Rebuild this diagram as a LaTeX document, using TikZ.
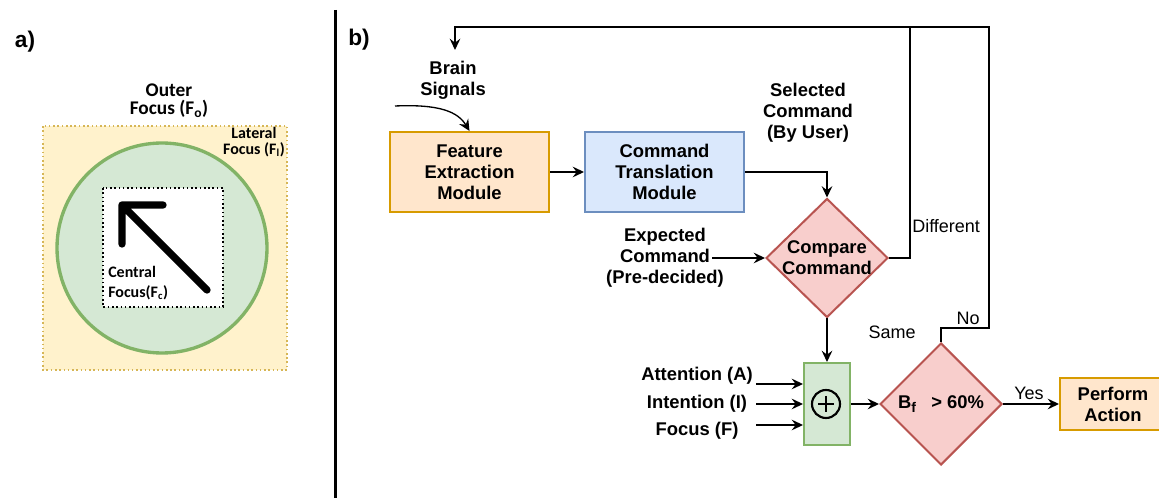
\documentclass[tikz,border=0pt]{standalone}
\usepackage{fontspec}
\setmainfont{Liberation Sans}
\newfontfamily\calib{Carlito}
\usetikzlibrary{arrows.meta,shapes.geometric,calc}

\definecolor{orfill}{HTML}{FFE6CC}
\definecolor{ordraw}{HTML}{D79B00}
\definecolor{blfill}{HTML}{DAE8FC}
\definecolor{bldraw}{HTML}{6C8EBF}
\definecolor{rdfill}{HTML}{F8CECC}
\definecolor{rddraw}{HTML}{B85450}
\definecolor{grfill}{HTML}{D5E8D4}
\definecolor{grdraw}{HTML}{82B366}
\definecolor{yefill}{HTML}{FFF2CC}
\definecolor{yedraw}{HTML}{D6B656}

\tikzset{
  txt/.style={font=\bfseries\fontsize{13.8}{15.75}\selectfont, align=center, inner sep=0pt},
  plain/.style={font=\fontsize{13.5}{15.75}\selectfont, inner sep=0pt},
  panel/.style={font=\bfseries\fontsize{17}{20}\selectfont, inner sep=0pt},
  modbox/.style={txt, draw, line width=1.5pt, minimum width=119.25pt, minimum height=60pt},
  decide/.style={diamond, draw=rddraw, fill=rdfill, line width=1.5pt, inner sep=0pt},
  wire/.style={line width=1pt},
  conn/.style={wire, -{Stealth[length=8.5pt,width=8pt,inset=3pt]}},
}

\begin{document}
\begin{tikzpicture}[x=0.75pt,y=-0.75pt]
\useasboundingbox (0,0) rectangle (1159,498);
\clip (0,0) rectangle (1159,498);

% ---------- panel a: focus regions ----------
\node[panel] (la) at (25,42) {a)};
\draw[yedraw, fill=yefill, line width=1.2pt, dotted] (43,126) rectangle (287,370);
\draw[grdraw, fill=grfill, line width=2.5pt] (162,248) circle[radius=78.75pt];
\draw[black, fill=white, line width=1.2pt, dotted] (103,188) rectangle (223,307);
\draw[black, line width=5.5pt, line cap=round, line join=round]
  (163,205) -- (122,205) -- (122,244) (122,205) -- (207,290);
\node[font=\calib\bfseries\fontsize{14.5}{13.5}\selectfont, align=center, inner sep=0pt]
  (outer) at (169,101) {Outer\\Focus (F\textsubscript{o})};
\node[font=\calib\bfseries\fontsize{12}{11.5}\selectfont, align=center, inner sep=0pt]
  (lateral) at (254,142) {Lateral\\Focus (F\textsubscript{l})};
\node[font=\calib\bfseries\fontsize{12}{15}\selectfont, align=left, inner sep=0pt, anchor=west]
  (central) at (108,283) {Central\\Focus(F\textsubscript{c})};

% divider between the panels
\draw[line width=2.25pt] (335,10) -- (335,498);

% ---------- panel b: command pipeline ----------
\node[panel] (lb) at (359,40) {b)};

\node[modbox, draw=ordraw, fill=orfill] (fe) at (469.5,172) {Feature\\Extraction\\Module};
\node[modbox, draw=bldraw, fill=blfill] (ct) at (664.5,172) {Command\\Translation\\Module};
\node[decide, minimum width=91.5pt, minimum height=89.25pt] (cmp) at (827,258) {};
\node[txt] (cmptxt) at (827,258) {Compare\\Command};
\node[draw=grdraw, fill=grfill, line width=1.5pt, minimum width=34.5pt, minimum height=61.5pt, inner sep=0pt]
  (sum) at (827,404) {};
\node[draw, circle, line width=1.6pt, minimum size=21pt, inner sep=0pt] (plus) at (826,404) {};
\draw[line width=1.8pt] ($(plus.center)+(-8,0)$) -- ($(plus.center)+(8,0)$)
  ($(plus.center)+(0,-8)$) -- ($(plus.center)+(0,8)$);
\node[decide, minimum width=91.5pt, minimum height=91.5pt] (bf) at (941,404) {};
\node[txt] (bftxt) at (941,404) {B\raisebox{-0.45ex}{\fontsize{10.5}{10.5}\selectfont f}\ \ \ \textgreater\ 60\%};
\node[modbox, draw=ordraw, fill=orfill, minimum width=79.5pt, minimum height=39pt] (pa) at (1113,404) {Perform\\Action};

% input labels
\node[txt] (brain) at (453,80) {Brain\\Signals};
\node[txt] (sel) at (808,113) {Selected\\Command\\(By User)};
\node[txt] (exp) at (665,258) {Expected\\Command\\(Pre-decided)};
\node[txt] (att) at (697,376) {Attention (A)};
\node[txt] (int) at (697,404) {Intention (I)};
\node[txt] (foc) at (697,431) {Focus (F)};

% branch labels
\node[plain, anchor=west] (ldiff) at (912,226) {Different};
\node[plain] (lsame) at (892,332) {Same};
\node[plain] (lno) at (968,318) {No};
\node[plain] (lyes) at (1029,393) {Yes};

% connector end points
\coordinate (bsrc) at (395,106);
\coordinate (expout) at (712,258);
\coordinate (attin) at (756,384);
\coordinate (intin) at (756,404);
\coordinate (focin) at (756,425);
\coordinate (dtop) at (910,27);
\coordinate (ntop) at (989,27);
\coordinate (fbtop) at (455,27);
\coordinate (fbend) at (455,50);

% connectors
\draw[conn] (bsrc) .. controls (440,104) and (458,112) .. (fe.north);
\draw[conn] (fe.east) -- (ct.west);
\draw[conn] (ct.east) -| (cmp.north);
\draw[conn] (expout) -- (cmp.west);
\draw[conn] (cmp.south) -- (sum.north);
\draw[conn] (attin) -- (attin -| sum.west);
\draw[conn] (intin) -- (intin -| sum.west);
\draw[conn] (focin) -- (focin -| sum.west);
\draw[conn] (sum.east) -- (bf.west);
\draw[conn] (bf.east) -- (pa.west);
\draw[conn] (cmp.east) -| (dtop) -- (fbtop) -- (fbend);
\draw[wire] (bf.north) -- ++(0,-14) -| (ntop) -- (dtop);
\end{tikzpicture}
\end{document}
